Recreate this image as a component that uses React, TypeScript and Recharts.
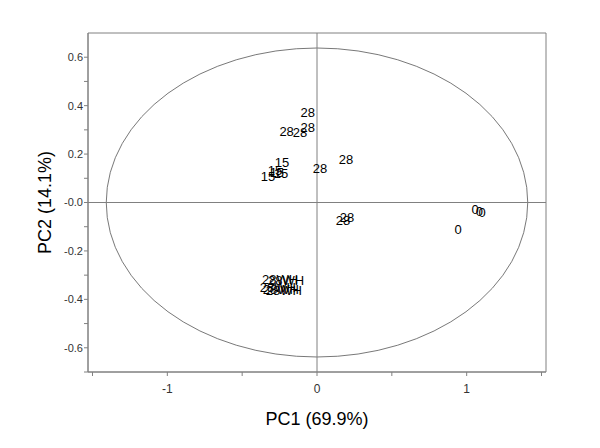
import * as React from 'react';
import {
  ScatterChart,
  Scatter,
  XAxis,
  YAxis,
  ReferenceLine,
  ReferenceArea,
  Label,
} from 'recharts';

// score labels by group (PC1, PC2)
const pc1Day0 = [1.057, 1.084, 1.104, 0.943];
const pc2Day0 = [-0.029, -0.037, -0.041, -0.112];
const pc1Day15 = [-0.234, -0.281, -0.268, -0.241, -0.328];
const pc2Day15 = [0.165, 0.132, 0.124, 0.12, 0.107];
const pc1Day28 = [-0.062, -0.062, -0.114, -0.203, 0.02, 0.194, 0.201, 0.174];
const pc2Day28 = [0.371, 0.309, 0.288, 0.292, 0.139, 0.178, -0.06, -0.074];
const pc1Day28WH = [-0.247, -0.207, -0.261, -0.241, -0.221];
const pc2Day28WH = [-0.318, -0.322, -0.351, -0.36, -0.364];

const groupLabels = ['0', '15', '28', '28WH'];

// Hotelling ellipse half-axes
const ellipseRx = 1.408;
const ellipseRy = 0.638;

const xDomain = [-1.53, 1.53];
const yDomain = [-0.7, 0.7];
const xTicks = [-1.5, -1, -0.5, 0, 0.5, 1, 1.5];
const xTickLabels = ['', '-1', '', '0', '', '1', ''];
const yTicks = [-0.7, -0.6, -0.5, -0.4, -0.3, -0.2, -0.1, 0, 0.1, 0.2, 0.3, 0.4, 0.5, 0.6];
const yTickLabels = ['', '-0.6', '', '-0.4', '', '-0.2', '', '-0.0', '', '0.2', '', '0.4', '', '0.6'];

const FONT = 'Arial, "Liberation Sans", sans-serif';
const AXIS = '#808080';

const toPoints = (xs: number[], ys: number[]) => xs.map((x, i) => ({ x, y: ys[i] }));

const series = [
  toPoints(pc1Day0, pc2Day0),
  toPoints(pc1Day15, pc2Day15),
  toPoints(pc1Day28, pc2Day28),
  toPoints(pc1Day28WH, pc2Day28WH),
];

const textShape = (label: string) => (props: any) => (
  <text
    x={props.cx}
    y={props.cy}
    textAnchor="middle"
    dominantBaseline="central"
    fontSize={13}
    fontFamily={FONT}
    fill="#000"
  >
    {label}
  </text>
);

export default function App() {
  return (
    <div style={{ position: 'absolute', left: 0, top: 0, background: '#fff' }}>
      <ScatterChart
        width={600}
        height={448}
        margin={{ top: 33, right: 54, bottom: 0, left: 0 }}
      >
        <XAxis
          type="number"
          dataKey="x"
          domain={xDomain}
          ticks={xTicks}
          interval={0}
          allowDataOverflow
          height={76}
          tickSize={4}
          tickMargin={8}
          stroke={AXIS}
          tick={{ fontSize: 12, fontFamily: FONT, fill: '#333' }}
          tickFormatter={(v: number) => xTickLabels[xTicks.indexOf(v)] ?? ''}
        >
          <Label
            value="PC1 (69.9%)"
            position="insideBottom"
            offset={23}
            style={{ fontSize: 18, fontFamily: FONT, fill: '#000' }}
          />
        </XAxis>
        <YAxis
          type="number"
          dataKey="y"
          domain={yDomain}
          ticks={yTicks}
          interval={0}
          allowDataOverflow
          width={88}
          tickSize={4}
          tickMargin={1}
          stroke={AXIS}
          tick={{ fontSize: 11, fontFamily: FONT, fill: '#333' }}
          tickFormatter={(v: number) => {
            const i = yTicks.findIndex((t) => Math.abs(t - v) < 1e-9);
            return i >= 0 ? yTickLabels[i] : '';
          }}
        >
          <Label
            value="PC2 (14.1%)"
            angle={-90}
            position="insideLeft"
            offset={45}
            style={{ fontSize: 18, fontFamily: FONT, fill: '#000', textAnchor: 'middle' }}
          />
        </YAxis>
        <ReferenceArea
          x1={xDomain[0]}
          x2={xDomain[1]}
          y1={yDomain[0]}
          y2={yDomain[1]}
          ifOverflow="visible"
          fill="none"
          stroke={AXIS}
          strokeWidth={1}
        />
        <ReferenceArea
          x1={-ellipseRx}
          x2={ellipseRx}
          y1={-ellipseRy}
          y2={ellipseRy}
          ifOverflow="visible"
          shape={(p: any) => (
            <ellipse
              cx={p.x + p.width / 2}
              cy={p.y + p.height / 2}
              rx={Math.abs(p.width) / 2}
              ry={Math.abs(p.height) / 2}
              fill="none"
              stroke="#555"
              strokeWidth={0.8}
            />
          )}
        />
        <ReferenceLine x={0} stroke={AXIS} strokeWidth={1} />
        <ReferenceLine y={0} stroke={AXIS} strokeWidth={1} />
        {series.map((pts, i) => (
          <Scatter
            key={groupLabels[i]}
            data={pts}
            isAnimationActive={false}
            shape={textShape(groupLabels[i])}
          />
        ))}
      </ScatterChart>
    </div>
  );
}
